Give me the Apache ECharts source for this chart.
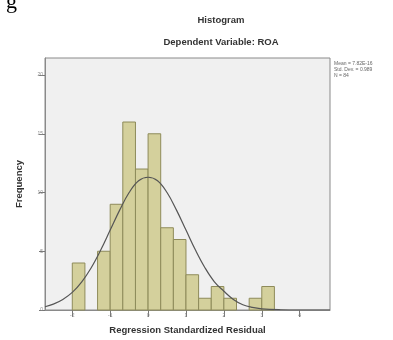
<!DOCTYPE html>
<html>
<head>
<meta charset="utf-8">
<script src="https://cdn.jsdelivr.net/npm/echarts@6/dist/echarts.min.js"></script>
<style>
html,body{margin:0;padding:0;background:#fff;}
#chart{width:393px;height:340px;}
</style>
</head>
<body>
<div id="chart"></div>
<script>
// Histogram bins (lower edge, upper edge) and frequencies
var binStart = [-2, -1.667, -1.333, -1, -0.667, -0.333, 0, 0.333, 0.667, 1, 1.333, 1.667, 2, 2.333, 2.667, 3];
var binEnd   = [-1.667, -1.333, -1, -0.667, -0.333, 0, 0.333, 0.667, 1, 1.333, 1.667, 2, 2.333, 2.667, 3, 3.333];
var binCount = [4, 0, 5, 9, 16, 12, 15, 7, 6, 3, 1, 2, 1, 0, 1, 2];

// Normal curve points
var curveX = [-2.72, -2.5, -2.25, -2, -1.75, -1.5, -1.25, -1, -0.75, -0.5, -0.25, 0, 0.25, 0.5, 0.75, 1, 1.25, 1.5, 1.75, 2, 2.25, 2.5, 2.75, 3, 3.5, 4, 4.8];
var curveY = [0.28, 0.5, 0.9, 1.5, 2.4, 3.6, 5.1, 6.8, 8.5, 10.0, 11.0, 11.3, 11.0, 10.0, 8.5, 6.8, 5.1, 3.6, 2.4, 1.6, 0.9, 0.45, 0.22, 0.1, 0.02, 0, 0];

var xTicks = [-2, -1, 0, 1, 2, 3, 4];
var yTicks = [0, 5, 10, 15, 20];

var titleText = 'Histogram';
var subtitleText = 'Dependent Variable: ROA';
var xName = 'Regression Standardized Residual';
var yName = 'Frequency';
var statsLines = ['Mean = 7.82E-16', 'Std. Dev. = 0.989', 'N = 84'];

var barData = binStart.map(function (s, i) { return [s, binEnd[i], binCount[i]]; });
var curveData = curveX.map(function (x, i) { return [x, curveY[i]]; });

var chart = echarts.init(document.getElementById('chart'), null, {renderer: 'canvas'});
var font = 'Liberation Sans, Arial, sans-serif';

chart.setOption({
  animation: false,
  backgroundColor: '#ffffff',
  grid: {
    left: 45, right: 63, top: 58, bottom: 30,
    show: true, backgroundColor: '#f0f0f0', borderColor: '#8a8a8a', borderWidth: 1
  },
  xAxis: {
    type: 'value', min: -2.72, max: 4.8,
    name: xName, nameLocation: 'middle', nameGap: 15,
    nameTextStyle: {fontFamily: font, fontWeight: 'bold', fontSize: 9.5, color: '#333'},
    axisLine: {show: true, onZero: false, lineStyle: {color: '#8a8a8a'}},
    axisTick: {show: true, length: 7, customValues: xTicks, lineStyle: {color: '#777'}},
    axisLabel: {show: true, customValues: xTicks, fontSize: 5, color: '#888', margin: 3, fontFamily: font},
    splitLine: {show: false}
  },
  yAxis: {
    type: 'value', min: 0, max: 21.45,
    name: yName, nameLocation: 'middle', nameGap: 21, nameRotate: 90,
    nameTextStyle: {fontFamily: font, fontWeight: 'bold', fontSize: 9.5, color: '#333'},
    axisLine: {show: true, onZero: false, lineStyle: {color: '#8a8a8a'}},
    axisTick: {show: true, length: 6, customValues: yTicks, lineStyle: {color: '#777'}},
    axisLabel: {show: true, customValues: yTicks, fontSize: 5, color: '#888', margin: 2, fontFamily: font},
    splitLine: {show: false}
  },
  graphic: [
    {type: 'text', left: 6, top: -9, style: {text: 'g', font: '22px "Liberation Serif", serif', fill: '#000'}},
    {type: 'text', x: 221, y: 20, style: {text: titleText, font: 'bold 9.5px ' + font, fill: '#333', align: 'center', verticalAlign: 'middle'}},
    {type: 'text', x: 221, y: 42, style: {text: subtitleText, font: 'bold 9.5px ' + font, fill: '#333', align: 'center', verticalAlign: 'middle'}},
    {type: 'text', x: 334, y: 61, style: {text: statsLines.join('\n'), font: '5px ' + font, fill: '#666', lineHeight: 6}}
  ],
  series: [
    {
      type: 'custom',
      data: barData,
      encode: {x: [0, 1], y: 2},
      renderItem: function (params, api) {
        var v = api.value(2);
        if (!v) return null;
        var p0 = api.coord([api.value(0), v]);
        var p1 = api.coord([api.value(1), 0]);
        return {
          type: 'rect',
          shape: {x: p0[0], y: p0[1], width: p1[0] - p0[0], height: p1[1] - p0[1]},
          style: {fill: '#d4d09c', stroke: '#8e8b5a', lineWidth: 1}
        };
      },
      z: 2
    },
    {
      type: 'line',
      data: curveData,
      smooth: 0.4,
      showSymbol: false,
      symbol: 'none',
      lineStyle: {color: '#555', width: 1.2},
      z: 3
    }
  ]
});
</script>
</body>
</html>
